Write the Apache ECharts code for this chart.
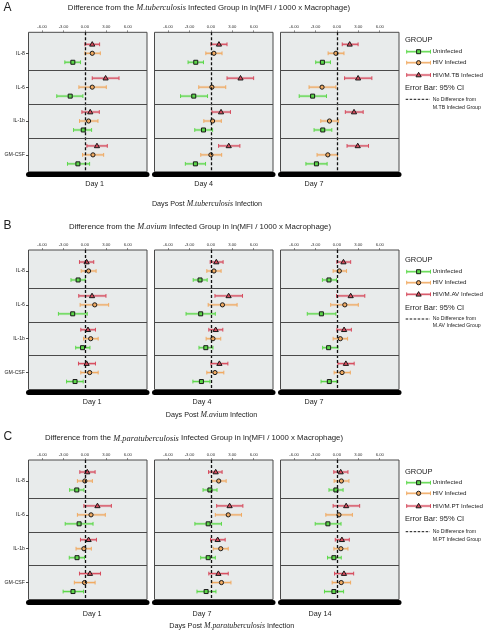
<!DOCTYPE html>
<html>
<head>
<meta charset="utf-8">
<script src="https://cdn.jsdelivr.net/npm/echarts@6/dist/echarts.min.js"></script>
<style>
html,body{margin:0;padding:0;background:#fff;}
#chart{width:490px;height:631px;}
</style>
</head>
<body>
<div id="chart"></div>
<script>
// ---------------- DATA ----------------
const cytokines = ['IL-8', 'IL-6', 'IL-1b', 'GM-CSF'];
const xTicks = [-6, -3, 0, 3, 6];
const tbDays = ['Day 1', 'Day 4', 'Day 7'];
const avDays = ['Day 1', 'Day 4', 'Day 7'];
const ptDays = ['Day 1', 'Day 7', 'Day 14'];
const groupNames = ['Uninfected', 'HIV Infected'];

// each entry: per day, per cytokine: [low 95% CI, mean, high 95% CI]
const tbUninfected = [
  [[-2.81, -1.69, -0.61], [-3.94, -2.06, -0.28], [-1.59, -0.23, 0.94], [-2.44, -0.98, 0.66]],
  [[-3.20, -2.12, -1.04], [-4.25, -2.40, -0.47], [-2.26, -1.04, 0.24], [-3.58, -2.17, -0.75]],
  [[-2.97, -2.03, -0.90], [-5.28, -3.40, -1.46], [-3.20, -1.98, -0.71], [-4.34, -2.87, -1.37]]
];
const tbHiv = [
  [[0.00, 1.03, 2.16], [-0.84, 1.03, 3.00], [-0.75, 0.52, 1.83], [-0.33, 1.13, 2.63]],
  [[-0.71, 0.42, 1.56], [-1.70, 0.14, 2.08], [-0.99, 0.24, 1.46], [-1.42, 0.00, 1.51]],
  [[-1.23, -0.14, 0.99], [-3.90, -2.08, -0.14], [-2.26, -1.04, 0.24], [-2.78, -1.27, 0.09]]
];
const tbCoinfected = [
  [[0.00, 1.03, 2.06], [1.03, 2.90, 4.78], [-0.42, 0.75, 2.02], [0.28, 1.69, 3.14]],
  [[0.00, 1.13, 2.26], [2.26, 4.15, 5.99], [0.14, 1.42, 2.74], [1.08, 2.50, 4.06]],
  [[0.75, 1.79, 2.97], [1.08, 2.97, 4.90], [1.18, 2.40, 3.68], [1.42, 2.92, 4.43]]
];
const avUninfected = [
  [[-1.95, -0.95, 0.05], [-3.71, -1.71, 0.33], [-1.29, -0.33, 0.71], [-2.57, -1.38, -0.24]],
  [[-2.48, -1.52, -0.52], [-3.48, -1.43, 0.62], [-1.67, -0.71, 0.29], [-2.52, -1.33, -0.14]],
  [[-2.03, -1.11, -0.05], [-4.15, -2.17, -0.14], [-2.00, -1.16, 0.15], [-2.22, -1.06, 0.00]]
];
const avHiv = [
  [[-0.52, 0.52, 1.57], [-0.67, 1.38, 3.33], [-0.19, 0.81, 1.86], [-0.57, 0.67, 1.86]],
  [[-0.57, 0.43, 1.43], [-0.38, 1.62, 3.67], [-0.67, 0.29, 1.38], [-0.57, 0.57, 1.81]],
  [[-0.53, 0.34, 1.35], [-0.87, 1.11, 3.00], [-0.53, 0.48, 1.50], [-0.39, 0.72, 1.88]]
];
const avCoinfected = [
  [[-0.76, 0.24, 1.24], [-0.86, 1.00, 2.95], [-0.57, 0.43, 1.48], [-0.90, 0.24, 1.48]],
  [[-0.10, 0.76, 1.71], [0.57, 2.48, 4.43], [-0.29, 0.67, 1.67], [0.00, 1.19, 2.38]],
  [[0.00, 0.92, 1.93], [-0.05, 1.93, 3.91], [0.00, 1.01, 2.03], [0.14, 1.26, 2.42]]
];
const ptUninfected = [
  [[-2.14, -1.14, -0.14], [-2.76, -0.81, 1.14], [-2.19, -1.10, -0.05], [-3.05, -1.67, -0.19]],
  [[-1.10, -0.14, 0.86], [-2.24, -0.38, 1.48], [-1.43, -0.38, 0.62], [-1.95, -0.67, 0.71]],
  [[-1.11, -0.14, 0.87], [-3.04, -1.26, 0.58], [-1.31, -0.42, 0.61], [-1.74, -0.42, 0.94]]
];
const ptHiv = [
  [[-1.05, 0.00, 1.05], [-1.05, 0.86, 2.86], [-1.24, -0.14, 0.90], [-1.48, -0.05, 1.43]],
  [[0.10, 1.10, 2.14], [0.62, 2.43, 4.29], [0.33, 1.38, 2.43], [0.14, 1.48, 2.81]],
  [[-0.39, 0.63, 1.69], [-1.55, 0.29, 2.17], [-0.42, 0.56, 1.55], [-0.66, 0.61, 1.92]]
];
const ptCoinfected = [
  [[-0.71, 0.33, 1.43], [-0.14, 1.76, 3.71], [-0.62, 0.52, 1.62], [-0.76, 0.71, 2.19]],
  [[-0.33, 0.67, 1.57], [0.81, 2.62, 4.48], [-0.05, 0.95, 2.00], [-0.29, 1.05, 2.43]],
  [[-0.43, 0.53, 1.55], [-0.53, 1.30, 3.19], [-0.23, 0.70, 1.74], [-0.33, 0.99, 2.35]]
];

// ---------------- LAYOUT / STYLE ----------------
const FONT = 'Liberation Sans';
const SERIF = 'Liberation Serif';
const TXT = '#222';
const colors = ['#5cd84a', '#f0aa62', '#d64a5c'];
const shapes = ['square', 'circle', 'triangle'];
const offsets = [0.265, 0, -0.265];

const figures = [
  {
    letter: 'A', species: 'M.tuberculosis', coName: 'HIV/M.TB Infected', foot: 'M.TB Infected Group',
    days: tbDays, groups: [tbUninfected, tbHiv, tbCoinfected],
    top: 32.3, titleX: 209, titleY: 7.5, letterY: 8,
    dayX: [94.7, 203.7, 314], dayY: 184, postX: 207, postY: 204,
    leg: [40, 51.7, 62.7, 75, 88.3, 99.3, 107.3]
  },
  {
    letter: 'B', species: 'M.avium', coName: 'HIV/M.AV Infected', foot: 'M.AV Infected Group',
    days: avDays, groups: [avUninfected, avHiv, avCoinfected],
    top: 250, titleX: 200, titleY: 226.7, letterY: 225.5,
    dayX: [92.2, 202, 314], dayY: 402.3, postX: 211.5, postY: 415,
    leg: [260, 271.7, 282.7, 294.3, 307.7, 319, 325.7]
  },
  {
    letter: 'C', species: 'M.paratuberculosis', coName: 'HIV/M.PT Infected', foot: 'M.PT Infected Group',
    days: ptDays, groups: [ptUninfected, ptHiv, ptCoinfected],
    top: 460, titleX: 194, titleY: 438.3, letterY: 437,
    dayX: [92.2, 202, 320], dayY: 614.3, postX: 231.7, postY: 625.7,
    leg: [471.7, 482.7, 493.3, 506, 519.3, 531.7, 540]
  }
];
const panelLefts = [28.5, 154.5, 280.5];
const PANEL_W = 118.5, PANEL_H = 139.5;

function markerShape(shape, x, y, color) {
  const st = { fill: color, stroke: '#1a1a1a', lineWidth: 1 };
  if (shape === 'square') return { type: 'rect', shape: { x: x - 2, y: y - 2, width: 4, height: 4 }, style: st, z2: 5 };
  if (shape === 'circle') return { type: 'circle', shape: { cx: x, cy: y, r: 2.1 }, style: st, z2: 5 };
  return { type: 'polygon', shape: { points: [[x, y - 2.7], [x - 2.6, y + 1.8], [x + 2.6, y + 1.8]] }, style: st, z2: 5 };
}
function errorBarShapes(x1, x2, y, color) {
  return [
    { type: 'line', shape: { x1: x1, y1: y, x2: x2, y2: y }, style: { stroke: color, lineWidth: 2.6, opacity: 0.3 } },
    { type: 'line', shape: { x1: x1, y1: y, x2: x2, y2: y }, style: { stroke: color, lineWidth: 1.1 } },
    { type: 'line', shape: { x1: x1, y1: y - 1.9, x2: x1, y2: y + 1.9 }, style: { stroke: color, lineWidth: 1 } },
    { type: 'line', shape: { x1: x2, y1: y - 1.9, x2: x2, y2: y + 1.9 }, style: { stroke: color, lineWidth: 1 } }
  ];
}
function makeRender(g) {
  return function (params, api) {
    const row = api.value(0);
    const y = row + offsets[g];
    const pLo = api.coord([api.value(1), y]);
    const pM = api.coord([api.value(2), y]);
    const pHi = api.coord([api.value(3), y]);
    const children = errorBarShapes(pLo[0], pHi[0], pLo[1], colors[g]);
    children.push(markerShape(shapes[g], pM[0], pM[1], colors[g]));
    return { type: 'group', children: children };
  };
}

const grids = [], xAxes = [], yAxes = [], series = [], graphics = [];
let gi = 0;
figures.forEach(function (fig) {
  const names = [groupNames[0], groupNames[1], fig.coName];
  for (let c = 0; c < 3; c++) {
    grids.push({
      left: panelLefts[c], top: fig.top, width: PANEL_W, height: PANEL_H,
      show: true, backgroundColor: '#e8ebeb', borderColor: '#4a4a4a', borderWidth: 1
    });
    xAxes.push({
      gridIndex: gi, type: 'value', position: 'top', min: -7.9, max: 8.7,
      axisLine: { show: false, onZero: false }, splitLine: { show: false },
      axisTick: { show: true, customValues: xTicks, length: 2, lineStyle: { color: '#444', width: 0.6 } },
      axisLabel: { customValues: xTicks, formatter: function (v) { return v.toFixed(2); }, fontSize: 4.2, margin: 3, color: '#333', fontFamily: FONT }
    });
    xAxes.push({
      gridIndex: gi, type: 'value', position: 'bottom', min: -7.9, max: 8.7, offset: 2.5,
      axisLine: { show: true, onZero: false, lineStyle: { color: '#000', width: 5 } },
      axisTick: { show: false }, axisLabel: { show: false }, splitLine: { show: false }
    });
    yAxes.push({
      gridIndex: gi, type: 'value', min: -0.62, max: 3.5, inverse: true,
      axisLine: { show: false, onZero: false }, splitLine: { show: false },
      axisTick: { show: c === 0, customValues: [0, 1, 2, 3], length: 2.5, lineStyle: { color: '#222', width: 0.8 } },
      axisLabel: { show: c === 0, customValues: [0, 1, 2, 3], formatter: function (v) { return cytokines[Math.round(v)]; }, fontSize: 5.2, margin: 3.5, color: TXT, fontFamily: FONT }
    });
    // reference lines
    series.push({
      type: 'line', name: 'ref', xAxisIndex: 2 * gi, yAxisIndex: gi, data: [], silent: true, z: 4,
      markLine: {
        silent: true, symbol: 'none', label: { show: false }, animation: false,
        data: [
          { xAxis: 0, lineStyle: { type: [3, 2], color: '#111', width: 1.3 } },
          { yAxis: 0.5, lineStyle: { type: 'solid', color: '#4a4a4a', width: 1 } },
          { yAxis: 1.5, lineStyle: { type: 'solid', color: '#4a4a4a', width: 1 } },
          { yAxis: 2.5, lineStyle: { type: 'solid', color: '#4a4a4a', width: 1 } }
        ]
      }
    });
    for (let g = 0; g < 3; g++) {
      const rows = fig.groups[g][c];
      series.push({
        type: 'custom', name: names[g], xAxisIndex: 2 * gi, yAxisIndex: gi, silent: true, z: 3,
        renderItem: makeRender(g),
        encode: { x: [1, 2, 3], y: 0 },
        data: rows.map(function (r, i) { return [i, r[0], r[1], r[2]]; })
      });
    }
    // day label
    graphics.push({ type: 'text', x: fig.dayX[c], y: fig.dayY, style: { text: fig.days[c], fontSize: 7.2, fontFamily: FONT, fill: TXT, textAlign: 'center', textVerticalAlign: 'middle' } });
    gi++;
  }
  // panel letter
  graphics.push({ type: 'text', x: 3.5, y: fig.letterY, style: { text: fig.letter, fontSize: 12, fontFamily: FONT, fill: TXT, textAlign: 'left', textVerticalAlign: 'middle' } });
  // title
  graphics.push({
    type: 'text', x: fig.titleX, y: fig.titleY,
    style: {
      text: '{n|Difference from the }{i|' + fig.species + '}{n| Infected Group in ln(MFI / 1000 x Macrophage)}',
      rich: {
        n: { fontSize: 7.8, fontFamily: FONT, fill: TXT },
        i: { fontSize: 8.4, fontFamily: SERIF, fontStyle: 'italic', fill: TXT }
      },
      textAlign: 'center', textVerticalAlign: 'middle'
    }
  });
  // x-axis caption
  graphics.push({
    type: 'text', x: fig.postX, y: fig.postY,
    style: {
      text: '{n|Days Post }{i|' + fig.species + '}{n| Infection}',
      rich: {
        n: { fontSize: 7.2, fontFamily: FONT, fill: TXT },
        i: { fontSize: 7.8, fontFamily: SERIF, fontStyle: 'italic', fill: TXT }
      },
      textAlign: 'center', textVerticalAlign: 'middle'
    }
  });
  // legend
  const L = fig.leg;
  graphics.push({ type: 'text', x: 405, y: L[0], style: { text: 'GROUP', fontSize: 7.5, fontFamily: FONT, fill: TXT, textVerticalAlign: 'middle' } });
  for (let g = 0; g < 3; g++) {
    const yy = L[g + 1];
    errorBarShapes(406.7, 430.5, yy, colors[g]).forEach(function (s) { graphics.push(s); });
    graphics.push(markerShape(shapes[g], 418.6, yy, colors[g]));
    graphics.push({ type: 'text', x: 432.5, y: yy, style: { text: names[g], fontSize: 6.2, fontFamily: FONT, fill: TXT, textVerticalAlign: 'middle' } });
  }
  graphics.push({ type: 'text', x: 405, y: L[4], style: { text: 'Error Bar: 95% CI', fontSize: 7.5, fontFamily: FONT, fill: TXT, textVerticalAlign: 'middle' } });
  graphics.push({ type: 'line', shape: { x1: 405.7, y1: L[5], x2: 430, y2: L[5] }, style: { stroke: '#111', lineWidth: 1, lineDash: [2.5, 1.5] } });
  graphics.push({ type: 'text', x: 432.7, y: L[5], style: { text: 'No Difference from', fontSize: 5.2, fontFamily: FONT, fill: TXT, textVerticalAlign: 'middle' } });
  graphics.push({ type: 'text', x: 432.7, y: L[6], style: { text: fig.foot, fontSize: 5.2, fontFamily: FONT, fill: TXT, textVerticalAlign: 'middle' } });
});

const chart = echarts.init(document.getElementById('chart'), null, { renderer: 'canvas' });
chart.setOption({
  animation: false,
  backgroundColor: '#ffffff',
  grid: grids,
  xAxis: xAxes,
  yAxis: yAxes,
  series: series,
  graphic: { elements: graphics }
});
</script>
</body>
</html>
